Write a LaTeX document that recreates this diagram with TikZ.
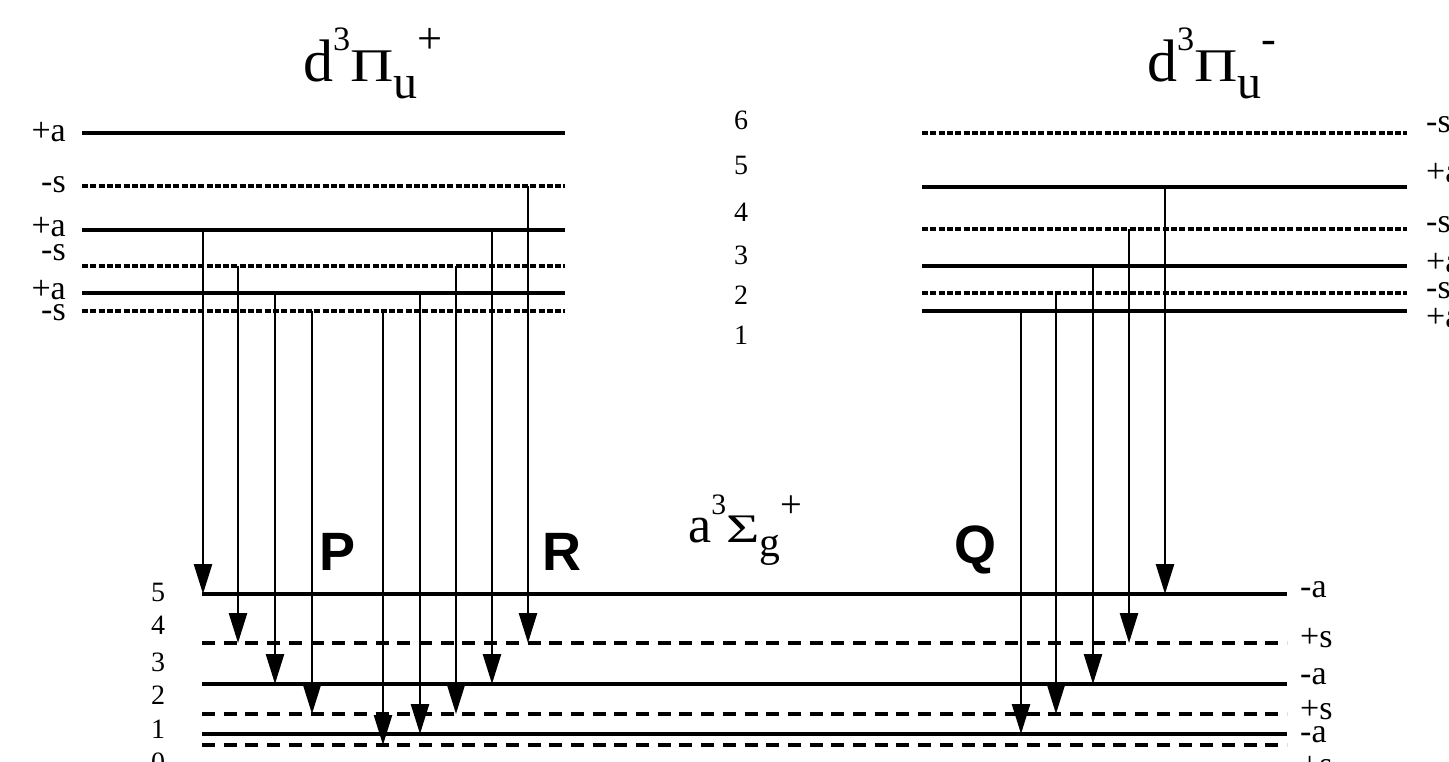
\documentclass[tikz,border=0pt]{standalone}
\usepackage{fontspec}
\usepackage{graphicx}
\setmainfont{Liberation Serif}
\newfontfamily\sansfam{Liberation Sans}
\usetikzlibrary{arrows.meta}
\newcommand{\molterm}[6]{#1\raisebox{0.53em}{\scalebox{0.57}{#2}}\scalebox{#6}[0.78]{#3}\raisebox{-0.28em}{\scalebox{0.8}{#4}}\raisebox{0.47em}{\scalebox{0.74}{#5}}}
\begin{document}
\begin{tikzpicture}[x=1pt,y=-1pt,
  solidlvl/.style={line width=3.5pt},
  dashlvl/.style={line width=3.2pt, dash pattern=on 6pt off 2.3pt},
  dashlow/.style={line width=3.2pt, dash pattern=on 13pt off 8.7pt},
  solidlow/.style={line width=3.2pt},
  trans/.style={line width=2.6pt, -{Triangle[length=30pt,width=18pt]}},
  lbl/.style={inner sep=0pt, font=\fontsize{34}{34}\selectfont},
  num/.style={inner sep=0pt, font=\fontsize{28}{28}\selectfont},
  branch/.style={inner sep=0pt, anchor=base, font=\sansfam\bfseries\fontsize{54}{54}\selectfont}]
\useasboundingbox (0,0) rectangle (1449,762);
\fill[white] (0,0) rectangle (1449,762);

% ---- upper left levels (d3Pi_u +)
\foreach \n/\y/\s in {6/133/solidlvl,5/186/dashlvl,4/230/solidlvl,3/266/dashlvl,2/293/solidlvl,1/311/dashlvl}{
  \coordinate (ULa\n) at (82,\y);
  \coordinate (ULb\n) at (565,\y);
  \draw[\s] (ULa\n) -- (ULb\n);
}
% ---- upper right levels (d3Pi_u -)
\foreach \n/\y/\s in {6/133/dashlvl,5/187/solidlvl,4/229/dashlvl,3/266/solidlvl,2/293/dashlvl,1/311/solidlvl}{
  \coordinate (URa\n) at (922,\y);
  \coordinate (URb\n) at (1407,\y);
  \draw[\s] (URa\n) -- (URb\n);
}
% ---- lower levels (a3Sigma_g +)
\foreach \n/\y/\s in {5/594/solidlow,4/643/dashlow,3/684/solidlow,2/714/dashlow,1/734/solidlow,0/745/dashlow}{
  \coordinate (La\n) at (202,\y);
  \coordinate (Lb\n) at (1287,\y);
  \draw[\s] (La\n) -- (Lb\n);
}

% ---- transitions
\foreach \x/\u/\l [count=\i] in {203/4/5,238/3/4,275/2/3,312/1/2,383/1/0,420/2/1,456/3/2,492/4/3,528/5/4}{
  \coordinate (ts\i) at (\x,0 |- ULa\u);
  \coordinate (te\i) at (\x,0 |- La\l);
  \draw[trans] (ts\i) -- (te\i);
}
\foreach \x/\u/\l [count=\i] in {1021/1/1,1056/2/2,1093/3/3,1129/4/4,1165/5/5}{
  \coordinate (qs\i) at (\x,0 |- URa\u);
  \coordinate (qe\i) at (\x,0 |- La\l);
  \draw[trans] (qs\i) -- (qe\i);
}

% ---- titles
\node[anchor=base west, inner sep=0pt, font=\fontsize{60}{60}\selectfont] (tplus) at (303,82) {\molterm{d}{3}{Π}{u}{+}{1}};
\node[anchor=base west, inner sep=0pt, font=\fontsize{60}{60}\selectfont] (tminus) at (1147,82) {\molterm{d}{3}{Π}{u}{-}{1}};
\node[anchor=base west, inner sep=0pt, font=\fontsize{52}{52}\selectfont] (tlow) at (688,542) {\molterm{a}{3}{Σ}{g}{+}{1.1}};

% ---- branch labels
\node[branch] (bP) at (338,570) {P};
\node[branch] (bR) at (562,570) {R};
\node[branch] (bQ) at (975,563) {Q};

% ---- left upper parity labels
\foreach \t/\y [count=\i] in {+a/132,-s/185,+a/227,-s/253,+a/290,-s/313}{
  \node[lbl, anchor=east] (lpl\i) at (66,\y) {\t};
}
% ---- right upper parity labels
\foreach \t/\y [count=\i] in {-s/125,+a/173,-s/225,+a/263,-s/291,+a/318}{
  \node[lbl, anchor=west] (rpl\i) at (1426,\y) {\t};
}
% ---- lower parity labels
\foreach \t/\y [count=\i] in {-a/590,+s/638,-a/677,+s/710,-a/735,+s/766}{
  \node[lbl, anchor=west] (lowpl\i) at (1300,\y) {\t};
}
% ---- numbers, middle
\foreach \t/\y in {6/120,5/165,4/212,3/255,2/295,1/335}{
  \node[num] (mid\t) at (741,\y) {\t};
}
% ---- numbers, lower left
\foreach \t/\y in {5/592,4/625,3/662,2/695,1/729,0/762}{
  \node[num] (low\t) at (158,\y) {\t};
}
\end{tikzpicture}
\end{document}
